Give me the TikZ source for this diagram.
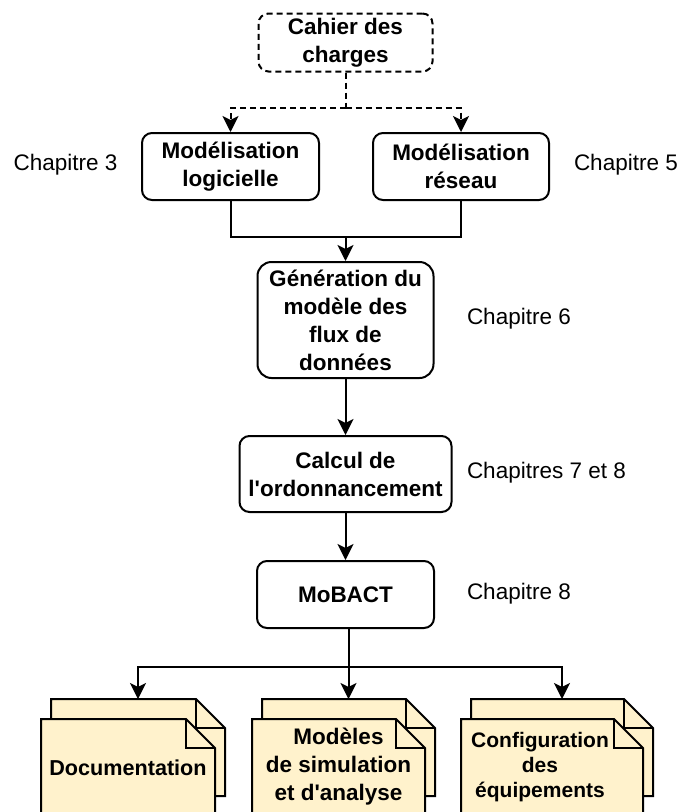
\documentclass[tikz,border=0pt]{standalone}
\usepackage{fontspec}
\setmainfont{Liberation Sans}[Ligatures=TeXOff]
\usetikzlibrary{arrows.meta}
\definecolor{docfill}{HTML}{FFF2CC}
\newcommand\docpath[3]{%
  \filldraw[docsh] (#1,#2) -- ({#1+#3-29},#2) -- ({#1+#3},{#2+29}) -- ({#1+#3},{#2+97}) -- (#1,{#2+97}) -- cycle;
  \draw[docsh,fill=none] ({#1+#3-29},#2) -- ({#1+#3-29},{#2+29}) -- ({#1+#3},{#2+29});
}
\begin{document}
\begin{tikzpicture}[x=1pt,y=-1pt,line width=2pt,
  box/.style={draw,rounded corners=10pt,fill=white,align=center,inner sep=0pt,
    font=\bfseries\fontsize{22.5}{28}\selectfont},
  chap/.style={inner sep=0pt,anchor=west,font=\fontsize{22.5}{28}\selectfont},
  arr/.style={-{Stealth[length=16pt,width=16pt,inset=4pt]}},
  dsh/.style={dash pattern=on 6pt off 4pt},
  docsh/.style={draw,fill=docfill,line join=miter},
  doctext/.style={inner sep=0pt,align=center,font=\bfseries\fontsize{22.5}{28}\selectfont}]
\useasboundingbox (0,0) rectangle (680,812);

% boxes
\node[box,dsh,minimum width=174pt,minimum height=58pt] (cah) at (345.5,42.5) {Cahier des\\charges};
\node[box,minimum width=177pt,minimum height=67pt] (log) at (230.5,166.5) {Modélisation\\logicielle};
\node[box,minimum width=176pt,minimum height=67pt] (res) at (461,166.5) {Modélisation\\réseau};
\node[box,rounded corners=14pt,minimum width=176pt,minimum height=116pt] (gen) at (345.5,320) {Génération du\\modèle des\\flux de\\données};
\node[box,minimum width=212pt,minimum height=76pt] (cal) at (345.5,474) {Calcul de\\l'ordonnancement};
\node[box,minimum width=177pt,minimum height=67pt] (mob) at (345.5,594.5) {MoBACT};

% chapter labels
\node[chap] (c3) at (12.7,165) {Chapitre 3};
\node[chap] (c5) at (573,165) {Chapitre 5};
\node[chap] (c6) at (466,319) {Chapitre 6};
\node[chap] (c78) at (466,473) {Chapitres 7 et 8};
\node[chap] (c8) at (466,594) {Chapitre 8};

% documents (back then front)
\docpath{51}{699}{174}
\docpath{41}{719}{174}
\docpath{262}{699}{173}
\docpath{252}{719}{173}
\docpath{471}{699}{182}
\docpath{461}{719}{182}
\coordinate (b1) at (138,699);
\coordinate (b2) at (348.5,699);
\coordinate (b3) at (562,699);
\node[doctext,font=\bfseries\fontsize{21.6}{26}\selectfont] (d1) at (128,767.5) {Documentation};
\node[doctext] (d2) at (338.5,767) {Modèles\\de simulation\\et d'analyse};
\node[doctext,font=\bfseries\fontsize{21}{25}\selectfont] (d3) at (540,767) {Configuration\\des\\équipements};

% connectors
\coordinate (j1) at (345.5,108);
\draw[dsh] (cah.south) -- (j1);
\draw[arr,dsh] (j1) -| (log.north);
\draw[arr,dsh] (j1) -| (res.north);
\coordinate (j2) at (345.5,237);
\draw (log.south) |- (j2);
\draw (res.south) |- (j2);
\draw[arr] (j2) -- (gen.north);
\draw[arr] (gen.south) -- (cal.north);
\draw[arr] (cal.south) -- (mob.north);
\coordinate (j3) at (348.5,667);
\draw (mob.south -| j3) -- (j3);
\draw[arr] (j3) -- (b2);
\draw[arr] (j3) -| (b1);
\draw[arr] (j3) -| (b3);
\end{tikzpicture}
\end{document}
